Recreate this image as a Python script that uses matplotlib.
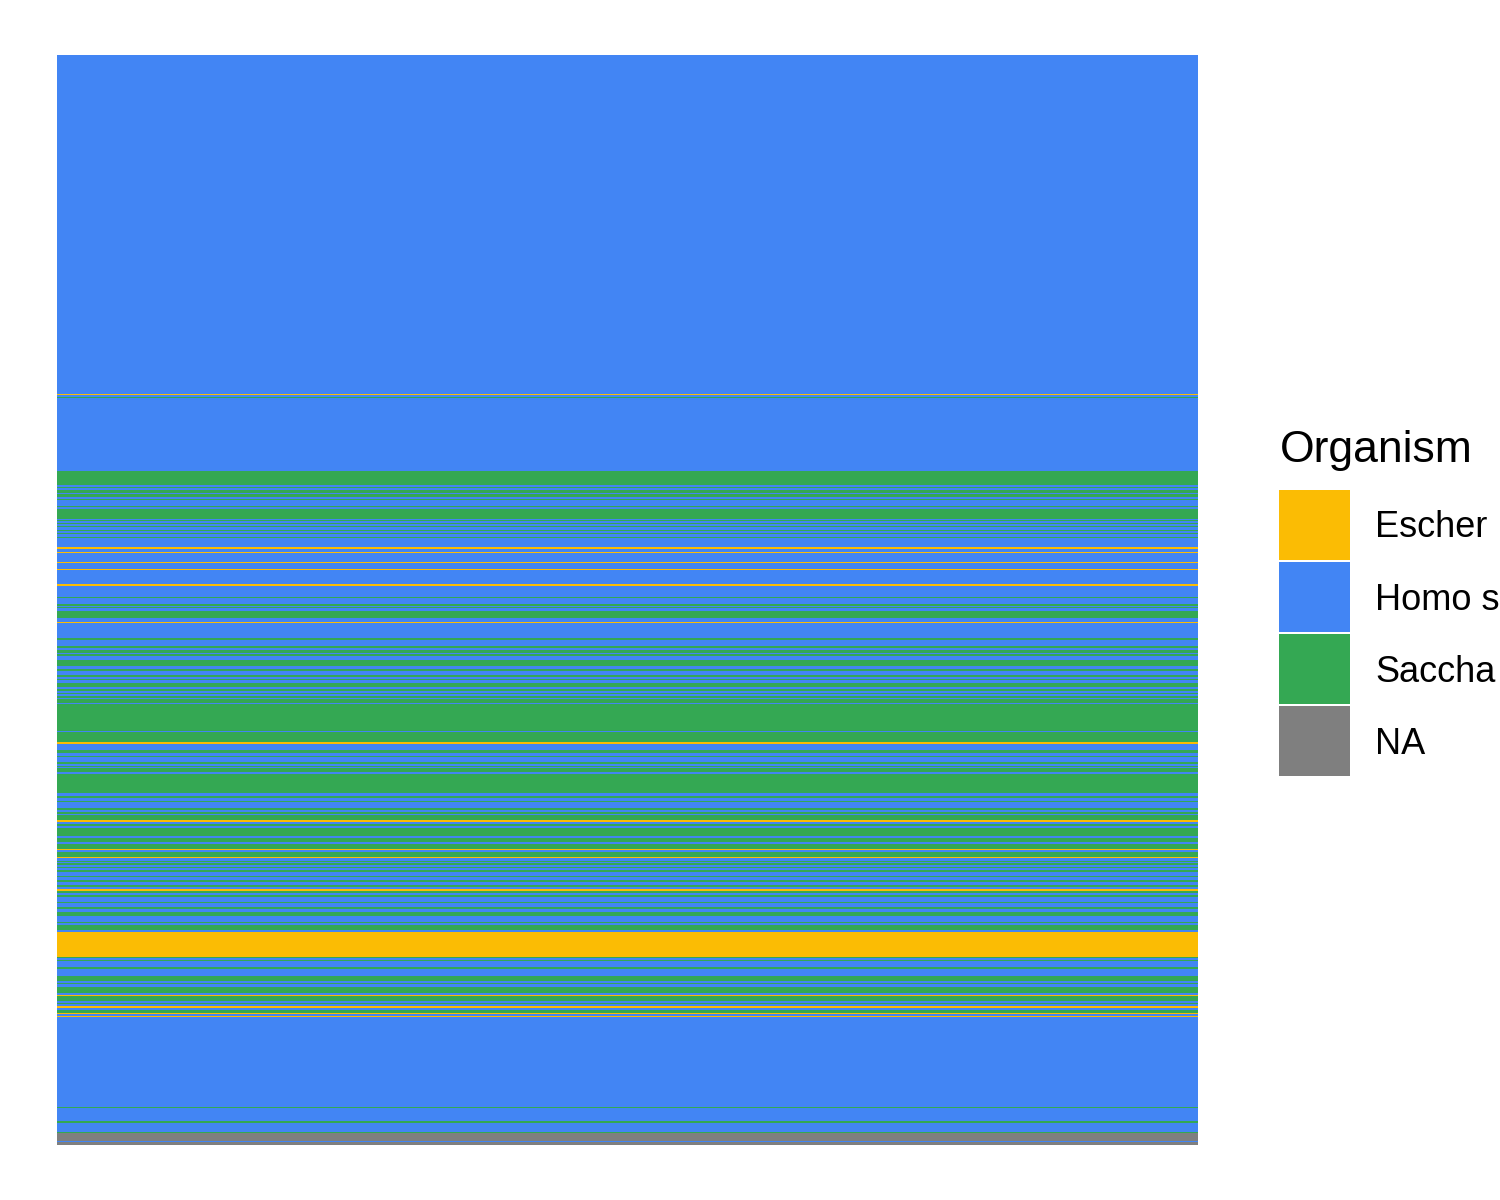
import numpy as np
import matplotlib
matplotlib.use("Agg")
import matplotlib.pyplot as plt
from matplotlib.colors import ListedColormap
from matplotlib.patches import Rectangle

# legend categories (labels are cut to 6 chars, as in the original)
organisms = ["Escher", "Homo s", "Saccha", "NA"]
org_colors = ["#FBBC04", "#4285F4", "#34A853", "#7F7F7F"]

# run-length encoded rows, top to bottom (E=Escher, H=Homo s, S=Saccha, N=NA)
run_org = list(
    "HEHSHSHSHS"
    "HSHSHSHSHS"
    "HSHSHSHSHS"
    "HEHEHEHEHE"
    "HSHSHSHSHE"
    "HSHSHSHSHS"
    "HSHSHSHSHS"
    "HSHSHSHSHS"
    "EHSHSHSHSH"
    "SHSHSHSHSH"
    "SHSEHSHSHS"
    "HSEHSEHSHS"
    "HSHSHSHSHS"
    "HESHSHSHSH"
    "SHSHSHESHS"
    "HSHSHSHSHE"
    "SHSHEHSEHE"
    "HSHSHSNHN"
)
run_len = [
    339, 1, 2, 1, 73, 14, 2, 1, 2, 3,
    1, 3, 2, 1, 6, 1, 2, 10, 1, 1,
    2, 1, 2, 1, 3, 1, 2, 1, 3, 1,
    9, 2, 3, 1, 9, 1, 6, 1, 14, 2,
    11, 1, 6, 2, 1, 1, 3, 7, 4, 1,
    15, 2, 6, 2, 2, 3, 1, 2, 4, 6,
    3, 2, 4, 2, 2, 1, 3, 4, 2, 2,
    2, 1, 2, 2, 1, 4, 1, 27, 1, 10,
    2, 6, 3, 3, 1, 5, 2, 2, 1, 1,
    4, 2, 19, 3, 2, 3, 1, 6, 2, 2,
    2, 1, 5, 2, 2, 2, 2, 8, 2, 4,
    2, 5, 1, 2, 5, 1, 3, 1, 1, 2,
    2, 1, 2, 2, 4, 1, 3, 2, 3, 2,
    2, 2, 2, 2, 2, 5, 1, 4, 2, 3,
    4, 6, 1, 2, 5, 2, 25, 1, 2, 1,
    6, 2, 7, 5, 2, 1, 3, 6, 2, 1,
    5, 2, 1, 2, 2, 2, 3, 1, 2, 1,
    90, 1, 13, 2, 9, 1, 8, 1, 3,
]

codes = {"E": 0, "H": 1, "S": 2, "N": 3}
rows = np.repeat([codes[c] for c in run_org], run_len)

fig = plt.figure(figsize=(15, 12), dpi=100)
ax = fig.add_axes([57 / 1500, 1 - 1145 / 1200, (1198 - 57) / 1500, (1145 - 55) / 1200])

cmap = ListedColormap(org_colors)
ax.pcolormesh(np.arange(2), np.arange(len(rows) + 1), rows[:, None],
              cmap=cmap, vmin=-0.5, vmax=3.5, shading="flat", antialiased=False)
ax.set_xlim(0, 1)
ax.set_ylim(len(rows), 0)
ax.axis("off")

# legend drawn by hand to match ggplot's layout
fig.text(1280 / 1500, 1 - 462 / 1200, "Organism", fontsize=32,
         family="Liberation Sans", va="baseline", ha="left")
key_top = 490
for i, (lab, col) in enumerate(zip(organisms, org_colors)):
    y0 = key_top + i * 72
    fig.add_artist(Rectangle((1279 / 1500, 1 - (y0 + 70) / 1200), 71 / 1500, 70 / 1200,
                             transform=fig.transFigure, color=col, lw=0))
    fig.text(1375 / 1500, 1 - (y0 + 38) / 1200, lab, fontsize=26,
             family="Liberation Sans", va="center", ha="left")

fig.savefig("out.png", dpi=100)
